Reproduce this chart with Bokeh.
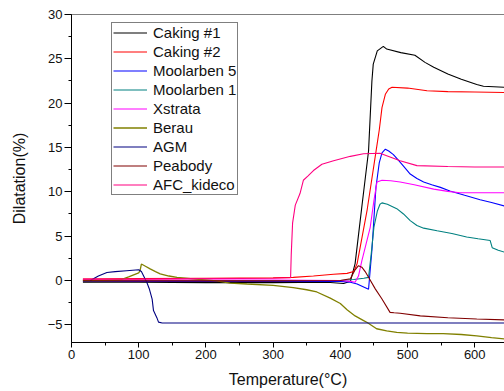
from bokeh.plotting import figure
from bokeh.models import Range1d, Legend, LegendItem, SingleIntervalTicker, Span
from bokeh.embed import file_html
from bokeh.resources import INLINE

# ---- data ----
names = ["Caking #1", "Caking #2", "Moolarben 5", "Moolarben 1", "Xstrata",
         "Berau", "AGM", "Peabody", "AFC_kideco"]
colors = ["#000000", "#ff0000", "#0000ff", "#008080", "#ff00ff",
          "#808000", "#000080", "#800000", "#ff0080"]

caking1_x = [17, 100, 200, 300, 380, 405, 415, 422, 432, 442, 447, 449, 455, 464, 469, 490, 511, 526, 539, 560, 580, 603, 613, 644]
caking1_y = [-0.2, -0.2, -0.25, -0.25, -0.2, -0.35, -0.1, 1.9, 8.3, 14.6, 22.5, 24.4, 25.9, 26.4, 26.1, 25.7, 25.4, 24.6, 24.05, 23.3, 22.7, 22.1, 21.9, 21.8]

caking2_x = [17, 100, 200, 300, 330, 360, 390, 410, 420, 425, 440, 453, 458, 462, 467, 472, 477, 500, 529, 560, 600, 644]
caking2_y = [0.15, 0.2, 0.25, 0.3, 0.35, 0.5, 0.7, 0.8, 1.0, 1.9, 8.0, 14.5, 17.0, 19.5, 21.0, 21.6, 21.8, 21.7, 21.4, 21.3, 21.25, 21.2]

moolarben5_x = [17, 100, 200, 300, 400, 415, 425, 442, 447, 453, 458, 462, 467, 472, 479, 486, 494, 504, 514, 524, 536, 549, 563, 585, 608, 625, 644]
moolarben5_y = [-0.1, -0.1, -0.1, -0.1, -0.1, -0.2, -0.4, -1.0, 3.4, 10.5, 13.3, 14.4, 14.8, 14.6, 14.2, 13.6, 12.9, 12.0, 11.5, 11.1, 10.8, 10.5, 10.1, 9.6, 9.1, 8.8, 8.4]

moolarben1_x = [17, 100, 200, 300, 400, 420, 435, 442, 446, 450, 455, 459, 462, 470, 484, 494, 504, 514, 524, 544, 566, 588, 605, 623, 626, 635, 644]
moolarben1_y = [-0.05, 0, 0, 0, 0, 0.1, 0.25, 0.35, 3.0, 6.0, 7.8, 8.6, 8.75, 8.6, 8.1, 7.5, 6.75, 6.2, 5.9, 5.6, 5.3, 4.9, 4.7, 4.5, 3.7, 3.4, 3.2]

xstrata_x = [17, 100, 200, 300, 400, 415, 422, 427, 432, 438, 444.5, 450, 454.5, 462, 475, 489, 510, 539, 560, 578, 610, 644]
xstrata_y = [0.05, 0.05, 0.05, 0.05, 0, -0.1, -0.2, 0.5, 2.2, 4.0, 6.0, 9.0, 11.1, 11.3, 11.25, 11.1, 10.8, 10.3, 10.05, 9.9, 9.9, 9.9]

berau_x = [17, 50, 72, 85, 100, 102, 104, 110, 117, 125, 132, 145, 157, 185, 216, 236, 261, 300, 330, 350, 365, 385, 400, 410, 422, 434, 440, 454, 469, 484, 500, 529, 553, 580, 603, 625, 644]
berau_y = [0, 0, 0.05, 0.4, 0.85, 1.1, 1.85, 1.6, 1.3, 1.0, 0.75, 0.5, 0.35, 0.15, -0.05, -0.3, -0.4, -0.55, -0.8, -1.05, -1.3, -2.0, -2.6, -3.3, -4.0, -4.5, -4.75, -5.45, -5.7, -5.85, -5.95, -6.0, -6.0, -6.1, -6.25, -6.45, -6.6]

agm_x = [28, 40, 52.7, 65, 82, 100, 104, 112, 116, 120, 122, 127, 129.5, 135, 200, 300, 400, 500, 600, 644]
agm_y = [0, 0.5, 0.9, 1.0, 1.1, 1.2, 1.0, -0.2, -1.0, -2.1, -3.4, -4.2, -4.7, -4.8, -4.8, -4.8, -4.8, -4.8, -4.8, -4.8]

peabody_x = [17, 100, 200, 300, 400, 415, 422, 427, 432, 437, 442, 452, 462, 474, 480, 489, 519, 560, 603, 644]
peabody_y = [-0.05, -0.05, -0.05, -0.05, 0, 0.2, 1.2, 1.67, 1.5, 1.0, 0.35, -0.95, -2.1, -3.6, -3.65, -3.7, -4.0, -4.2, -4.35, -4.45]

afc_x = [17, 100, 200, 300, 326, 327, 329, 333, 340, 345, 352, 360, 372.6, 390, 415, 434.5, 459, 475, 489, 514, 560, 600, 644]
afc_y = [0.15, 0.15, 0.2, 0.25, 0.3, 3.0, 6.5, 8.5, 9.8, 11.3, 11.8, 12.4, 13.1, 13.5, 14.0, 14.3, 14.35, 13.9, 13.5, 12.95, 12.85, 12.8, 12.8]

series_x = [caking1_x, caking2_x, moolarben5_x, moolarben1_x, xstrata_x, berau_x, agm_x, peabody_x, afc_x]
series_y = [caking1_y, caking2_y, moolarben5_y, moolarben1_y, xstrata_y, berau_y, agm_y, peabody_y, afc_y]

x_label = "Temperature(°C)"
y_label = "Dilatation(%)"
y_max = 30

FONT = "Liberation Sans"

p = figure(width=504, height=390, output_backend="svg", toolbar_location=None,
           x_range=Range1d(0, 644.3), y_range=Range1d(-7, y_max),
           min_border_left=71, min_border_right=0, min_border_top=14, min_border_bottom=48,
           x_axis_label=x_label, y_axis_label=y_label)
p.background_fill_color = "white"
p.border_fill_color = "white"
p.outline_line_color = None
p.grid.visible = False

for ax in (p.xaxis[0], p.yaxis[0]):
    ax.axis_line_color = "black"
    ax.axis_line_width = 1
    ax.major_tick_line_color = "black"
    ax.minor_tick_line_color = "black"
    ax.major_tick_in = 0
    ax.minor_tick_in = 0
    ax.major_label_text_font = FONT
    ax.major_label_text_font_size = "13px"
    ax.major_label_text_color = "#111111"
    ax.axis_label_text_font = FONT
    ax.axis_label_text_font_size = "16px"
    ax.axis_label_text_font_style = "normal"
    ax.axis_label_text_color = "#111111"

p.xaxis[0].ticker = SingleIntervalTicker(interval=100, num_minor_ticks=2)
p.xaxis[0].major_tick_out = 5
p.xaxis[0].minor_tick_out = 3
p.xaxis[0].major_label_standoff = 2
p.xaxis[0].axis_label_standoff = 9

p.yaxis[0].ticker = SingleIntervalTicker(interval=5, num_minor_ticks=2)
p.yaxis[0].major_tick_out = 7
p.yaxis[0].minor_tick_out = 3
p.yaxis[0].major_label_standoff = 2
p.yaxis[0].axis_label_standoff = 17

# top spine of the frame
p.add_layout(Span(location=y_max, dimension="width", line_color="black", line_width=1))

renderers = []
for xs, ys, c in zip(series_x, series_y, colors):
    w = 1.3 if c == "#808000" else 1.1
    r = p.line(xs, ys, line_color=c, line_width=w)
    renderers.append(r)

legend = Legend(items=[LegendItem(label=n, renderers=[r]) for n, r in zip(names, renderers)],
                location=(40, 147))
legend.label_text_font = FONT
legend.label_text_font_size = "15px"
legend.label_text_color = "#111111"
legend.label_height = 17
legend.glyph_height = 17
legend.glyph_width = 34
legend.label_standoff = 6
legend.spacing = 2
legend.padding = 1
legend.margin = 0
legend.border_line_color = "black"
legend.border_line_width = 1
legend.background_fill_color = "white"
legend.background_fill_alpha = 1
p.add_layout(legend, "center")

open("out.html", "w").write(file_html(p, INLINE))
